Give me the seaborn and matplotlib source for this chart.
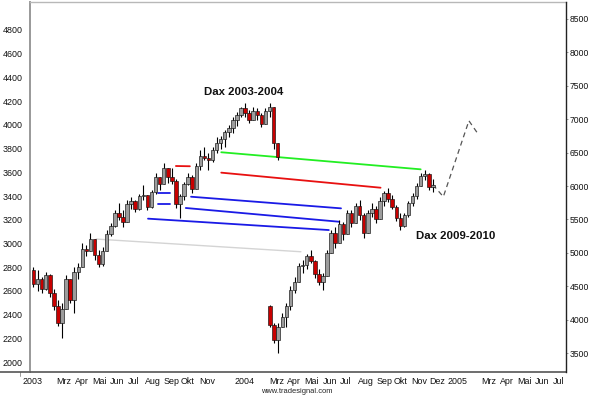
import numpy as np
import pandas as pd
import matplotlib
matplotlib.use("Agg")
import matplotlib.pyplot as plt
import matplotlib.dates as mdates
from matplotlib.transforms import ScaledTranslation
import seaborn as sns

# Dax 2003-2004, weekly bars (left scale)
dax03_dates = pd.date_range("2003-01-24", periods=61, freq="7D")
dax03_open = [2780, 2660, 2700, 2620, 2730, 2580, 2470, 2330, 2450, 2700,
              2520, 2760, 2800, 2950, 2940, 3040, 2900, 2830, 2940, 3080,
              3150, 3260, 3220, 3180, 3330, 3360, 3290, 3400, 3410, 3310,
              3430, 3560, 3500, 3640, 3560, 3530, 3330, 3400, 3500, 3560,
              3460, 3650, 3740, 3720, 3700, 3790, 3850, 3880, 3940, 3970,
              4040, 4080, 4140, 4100, 4040, 4120, 4080, 4010, 4120, 4150, 3850]
dax03_high = [2800, 2776, 2717, 2759, 2740, 2620, 2520, 2497, 2734, 2700,
              2800, 2835, 3004, 2990, 3088, 3040, 2945, 2970, 3113, 3172,
              3280, 3341, 3282, 3366, 3391, 3370, 3420, 3493, 3410, 3450,
              3594, 3560, 3678, 3640, 3636, 3540, 3420, 3520, 3594, 3580,
              3678, 3788, 3813, 3760, 3813, 3897, 3910, 3960, 4000, 4066,
              4110, 4150, 4184, 4125, 4150, 4140, 4100, 4140, 4184, 4150, 3850]
dax03_low = [2633, 2600, 2582, 2610, 2548, 2440, 2300, 2200, 2450, 2497,
             2413, 2700, 2800, 2890, 2940, 2860, 2800, 2810, 2940, 3060,
             3140, 3198, 3139, 3180, 3290, 3265, 3282, 3366, 3282, 3300,
             3420, 3450, 3500, 3510, 3500, 3300, 3214, 3366, 3493, 3425,
             3460, 3620, 3703, 3619, 3690, 3763, 3800, 3813, 3900, 3931,
             3990, 4066, 4070, 4015, 4041, 4041, 3982, 4010, 4066, 3800, 3703]
dax03_close = [2660, 2700, 2620, 2730, 2580, 2470, 2330, 2450, 2700, 2520,
               2760, 2800, 2950, 2940, 3040, 2900, 2830, 2940, 3080, 3150,
               3260, 3220, 3180, 3330, 3360, 3290, 3400, 3410, 3310, 3430,
               3560, 3500, 3640, 3560, 3530, 3330, 3400, 3500, 3560, 3460,
               3650, 3740, 3720, 3700, 3790, 3850, 3880, 3940, 3970, 4040,
               4080, 4140, 4100, 4040, 4120, 4080, 4010, 4120, 4150, 3850, 3730]

# Dax 2009-2010, weekly bars (right scale), laid over the 2004 time axis
dax09_dates = pd.date_range("2004-03-06", periods=41, freq="7D")
dax09_open = [4200, 3920, 3700, 3900, 4050, 4200, 4450, 4560, 4800, 4820,
              4950, 4880, 4680, 4560, 4650, 5000, 5300, 5150, 5440, 5280,
              5600, 5450, 5700, 5560, 5300, 5600, 5650, 5500, 5780, 5900,
              5800, 5680, 5520, 5400, 5560, 5740, 5850, 6000, 6150, 6180, 5990]
dax09_high = [4222, 3953, 3953, 4110, 4250, 4500, 4640, 4849, 4900, 4990,
              5043, 4894, 4760, 4700, 5043, 5342, 5387, 5491, 5460, 5641,
              5641, 5740, 5790, 5600, 5641, 5745, 5700, 5835, 5930, 5970,
              5860, 5720, 5596, 5596, 5780, 5900, 6050, 6194, 6239, 6200, 6100]
dax09_low = [3893, 3650, 3505, 3893, 3893, 4147, 4400, 4560, 4700, 4760,
             4850, 4620, 4520, 4446, 4650, 5000, 5073, 5150, 5200, 5280,
             5387, 5450, 5491, 5222, 5300, 5536, 5447, 5500, 5700, 5760,
             5650, 5480, 5342, 5387, 5536, 5700, 5800, 6000, 6090, 5940, 5910]
dax09_close = [3920, 3700, 3900, 4050, 4200, 4450, 4560, 4800, 4820, 4950,
               4880, 4680, 4560, 4650, 5000, 5300, 5150, 5440, 5280, 5600,
               5450, 5700, 5560, 5300, 5600, 5650, 5500, 5780, 5900, 5800,
               5680, 5520, 5400, 5560, 5740, 5850, 6000, 6150, 6180, 5990, 6020]

# projected path (right scale)
proj_dates = pd.to_datetime(["2004-12-11", "2004-12-29", "2005-02-11", "2005-02-26"])
proj_values = [6020, 5840, 6975, 6787]

# comparison lines (left scale)
line_start_dates = pd.to_datetime(["2003-05-12", "2003-08-09", "2003-08-26", "2003-10-13", "2003-08-26",
                                   "2003-10-22", "2003-09-26", "2003-12-13", "2003-12-13"])
line_end_dates = pd.to_datetime(["2004-04-28", "2004-06-15", "2003-09-16", "2004-07-03", "2003-09-16",
                                 "2004-07-06", "2003-10-20", "2004-09-12", "2004-11-20"])
line_start_vals = [3037, 3209, 3333, 3299, 3423, 3394, 3653, 3597, 3769]
line_end_vals = [2930, 3113, 3333, 3183, 3423, 3296, 3651, 3470, 3625]
line_colors = ["#d4d4d4", "#1a1ae6", "#1a1ae6", "#1a1ae6", "#1a1ae6",
               "#1a1ae6", "#e81010", "#e81010", "#22ee22"]

# month axis
tick_dates = pd.to_datetime(["2003-01-01", "2003-03-01", "2003-04-01", "2003-05-01", "2003-06-01",
                             "2003-07-01", "2003-08-01", "2003-09-01", "2003-10-01", "2003-11-01",
                             "2004-01-01", "2004-03-01", "2004-04-01", "2004-05-01", "2004-06-01",
                             "2004-07-01", "2004-08-01", "2004-09-01", "2004-10-01", "2004-11-01",
                             "2004-12-01", "2005-01-01", "2005-03-01", "2005-04-01", "2005-05-01",
                             "2005-06-01", "2005-07-01"])
tick_labels = ["2003", "Mrz", "Apr", "Mai", "Jun", "Jul", "Aug", "Sep", "Okt", "Nov",
               "2004", "Mrz", "Apr", "Mai", "Jun", "Jul", "Aug", "Sep", "Okt", "Nov",
               "Dez", "2005", "Mrz", "Apr", "Mai", "Jun", "Jul"]
left_ticks = [2000, 2200, 2400, 2600, 2800, 3000, 3200, 3400, 3600, 3800,
              4000, 4200, 4400, 4600, 4800]
right_ticks = [3500, 4000, 4500, 5000, 5500, 6000, 6500, 7000, 7500, 8000, 8500]

sns.set_style("white")
plt.rcParams["font.family"] = ["Liberation Sans", "DejaVu Sans"]

fig = plt.figure(figsize=(5.95, 3.96), dpi=100)
ax = fig.add_axes([30 / 595, 24 / 396, 536 / 595, 370 / 396])
ax2 = ax.twinx()


def candles(axis, dates, o, h, l, c):
    o = np.array(o)
    c = np.array(c)
    up = c >= o
    axis.vlines(dates, l, h, color="black", lw=0.8, zorder=3)
    axis.bar(dates, c - o, bottom=o, width=6.0,
             color=np.where(up, "#9c9c9c", "#c80000"),
             edgecolor="#111111", linewidth=0.45, zorder=4)


for i in range(len(line_colors)):
    sns.lineplot(x=[line_start_dates[i], line_end_dates[i]],
                 y=[line_start_vals[i], line_end_vals[i]],
                 ax=ax, color=line_colors[i], lw=1.3 if i else 1.0, zorder=2)

candles(ax, dax03_dates, dax03_open, dax03_high, dax03_low, dax03_close)
candles(ax2, dax09_dates, dax09_open, dax09_high, dax09_low, dax09_close)
sns.lineplot(x=proj_dates, y=proj_values, ax=ax2, color="#555555",
             lw=0.9, linestyle=(0, (4, 3)))

xmin, xmax = pd.Timestamp("2003-01-18"), pd.Timestamp("2005-07-28")
ax.set_xlim(xmin, xmax)
ax.set_ylim(1916, 5036)
ax2.set_ylim(3221, 8750)

# left scale
ax.set_yticks(left_ticks)
ax.set_yticklabels([str(t) for t in left_ticks])
ax.tick_params(axis="y", length=0, pad=5.5, labelsize=6.4, labelcolor="#111111")
# right scale
ax2.set_yticks(right_ticks)
ax2.set_yticklabels([str(t) for t in right_ticks])
ax2.tick_params(axis="y", length=1.6, width=0.6, color="#888888", pad=0.8,
                labelsize=6.2, labelcolor="#111111")

# month ticks
inside = [(d, s) for d, s in zip(tick_dates, tick_labels) if d >= xmin]
outside = [(d, s) for d, s in zip(tick_dates, tick_labels) if d < xmin]
ax.set_xticks([d for d, s in inside])
ax.set_xticklabels([s for d, s in inside], ha="left")
ax.tick_params(axis="x", length=2.5, width=0.6, color="#888888", pad=1.2,
               labelsize=6.4, labelcolor="#111111")
shift = ScaledTranslation(1.5 / 72, 0, fig.dpi_scale_trans)
for lab in ax.get_xticklabels():
    lab.set_transform(lab.get_transform() + shift)
for d, s in outside:
    ax.plot([d, d], [0, -0.0095], transform=ax.get_xaxis_transform(),
            color="#888888", lw=0.6, clip_on=False)
    ax.annotate(s, xy=(mdates.date2num(d), 0), xycoords=("data", "axes fraction"),
                xytext=(1.5, -3.7), textcoords="offset points", ha="left", va="top",
                fontsize=6.4, color="#111111", annotation_clip=False)

ax.set_xlabel("")
ax.set_ylabel("")
ax2.set_ylabel("")

for a in (ax, ax2):
    for sp in a.spines.values():
        sp.set_visible(False)
ax.spines["left"].set_visible(True)
ax.spines["left"].set_color("#999999")
ax.spines["left"].set_linewidth(1.4)
ax.spines["top"].set_visible(True)
ax.spines["top"].set_color("#b8b8b8")
ax.spines["top"].set_linewidth(1.0)
ax.spines["bottom"].set_visible(True)
ax.spines["bottom"].set_color("#555555")
ax.spines["bottom"].set_linewidth(1.2)
ax2.spines["right"].set_visible(True)
ax2.spines["right"].set_color("#222222")
ax2.spines["right"].set_linewidth(1.0)
# bottom rule runs under the left scale too
ax.plot([-30 / 536, 0], [0, 0], transform=ax.transAxes, color="#555555",
        lw=1.2, clip_on=False)

ax.text(0.399, 0.757, "Dax 2003-2004", transform=ax.transAxes, ha="center",
        va="center", fontsize=8.2, fontweight="bold", color="#111111")
ax.text(0.794, 0.368, "Dax 2009-2010", transform=ax.transAxes, ha="center",
        va="center", fontsize=8.2, fontweight="bold", color="#111111")
fig.text(0.499, 0.011, "www.tradesignal.com", ha="center", va="center",
         fontsize=5.4, color="#222222")

fig.savefig("out.png", dpi=100)
